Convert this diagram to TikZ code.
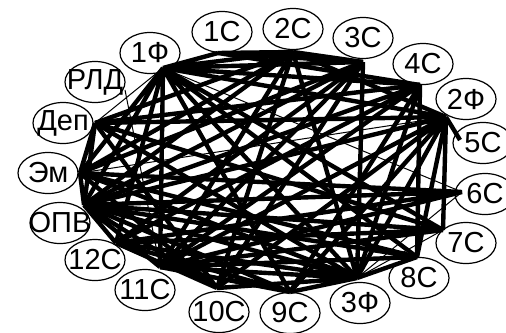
\documentclass[tikz,border=0pt]{standalone}
\usepackage{fontspec}
\setmainfont{Liberation Sans}
\usetikzlibrary{shapes.geometric}
\newcommand\tagtext[1]{\makebox[16pt]{#1}}
\begin{document}
\begin{tikzpicture}[x=0.5pt, y=-0.5pt,
  lbl/.style={draw, ellipse, line width=0.6pt, minimum width=30pt, minimum height=20.5pt, inner sep=0pt, font=\fontsize{14.5}{15}\selectfont},
  hv/.style={line width=2.2pt},
  lt/.style={line width=0.5pt}]
\useasboundingbox (0,0) rectangle (506,332);

\coordinate (vf1) at (163,68);
\coordinate (vc1) at (218,53);
\coordinate (vc2) at (293,52);
\coordinate (vc3) at (363,62);
\coordinate (vc4) at (420,85);
\coordinate (vf2) at (446,117);
\coordinate (vc5) at (460,140);
\coordinate (vc6) at (462,192);
\coordinate (vc7) at (443,230);
\coordinate (vc8) at (417,257);
\coordinate (vf3) at (357,278);
\coordinate (vc9) at (290,292);
\coordinate (vc10) at (217,288);
\coordinate (vc11) at (160,267);
\coordinate (vc12) at (116,243);
\coordinate (vopv) at (84,205);
\coordinate (vem) at (80,173);
\coordinate (vdep) at (95,123);
\coordinate (vrld) at (125,90);

\draw [hv] (vf1) -- (vc1) (vf1) -- (vc2) (vf1) -- (vc3) (vf1) -- (vc4) (vf1) -- (vf2) (vf1) -- (vc7) (vf1) -- (vc8) (vf1) -- (vf3) (vf1) -- (vc9) (vf1) -- (vc11) (vf1) -- (vc12) (vf1) -- (vopv) (vf1) -- (vem);
\draw [hv] (vc1) -- (vc2) (vc1) -- (vc3) (vc1) -- (vc4);
\draw [hv] (vc2) -- (vc3) (vc2) -- (vf2) (vc2) -- (vf3) (vc2) -- (vopv) (vc2) -- (vc11) (vc2) -- (vdep) (vc2) -- (vem) (vc2) -- (vc10);
\draw [hv] (vc3) -- (vf3) (vc3) -- (vopv) (vc3) -- (vem) (vc3) -- (vc10) (vc3) -- (vc11) (vc3) -- (vc12);
\draw [hv] (vc4) -- (vf3) (vc4) -- (vopv) (vc4) -- (vc12) (vc4) -- (vc8) (vc4) -- (vc9) (vc4) -- (vdep) (vc4) -- (vc11);
\draw [hv] (vf2) -- (vc5) (vf2) -- (vc7) (vf2) -- (vc8) (vf2) -- (vf3) (vf2) -- (vc10) (vf2) -- (vc11) (vf2) -- (vopv) (vf2) -- (vc9) (vf2) -- (vdep);
\draw [hv] (vc6) -- (vopv) (vc6) -- (vc12) (vc6) -- (vem) (vc6) -- (vc11);
\draw [hv] (vc7) -- (vopv) (vc7) -- (vc12) (vc7) -- (vc11) (vc7) -- (vdep);
\draw [hv] (vc8) -- (vopv) (vc8) -- (vf3) (vc8) -- (vc11) (vc8) -- (vem);
\draw [hv] (vf3) -- (vc9) (vf3) -- (vc10) (vf3) -- (vc11) (vf3) -- (vopv) (vf3) -- (vem) (vf3) -- (vdep) (vf3) -- (vc12);
\draw [hv] (vc9) -- (vopv) (vc9) -- (vc11) (vc9) -- (vc12);
\draw [hv] (vc10) -- (vopv) (vc10) -- (vc12) (vc10) -- (vem) (vc10) -- (vdep);
\draw [hv] (vc11) -- (vopv) (vc12) -- (vopv) (vem) -- (vdep) (vem) -- (vopv) (vdep) -- (vopv);

\draw [lt] (vdep) -- (vf1) (vrld) -- (vc11) (vem) -- (vf2) (vf1) -- (vc6) (vf3) -- (vc6) (vf3) -- (vc7);

\node [lbl] (f1) at (150,53) {\tagtext{1Ф}};
\node [lbl] (c1) at (222,32) {\tagtext{1С}};
\node [lbl] (c2) at (293,29) {\tagtext{2С}};
\node [lbl] (c3) at (363,38) {\tagtext{3С}};
\node [lbl] (c4) at (423,64) {\tagtext{4С}};
\node [lbl] (f2) at (466,99) {\tagtext{2Ф}};
\node [lbl] (c5) at (483,143) {\tagtext{5С}};
\node [lbl] (c6) at (485,194) {\tagtext{6С}};
\node [lbl] (c7) at (466,243) {\tagtext{7С}};
\node [lbl] (c8) at (419,278) {\tagtext{8С}};
\node [lbl] (f3) at (360,303) {\tagtext{3Ф}};
\node [lbl] (c9) at (290,313) {\tagtext{9С}};
\node [lbl] (c10) at (219,312) {\tagtext{10С}};
\node [lbl] (c11) at (145,290) {\tagtext{11С}};
\node [lbl] (c12) at (95,260) {\tagtext{12С}};
\node [lbl] (opv) at (60,223) {\tagtext{ОПВ}};
\node [lbl] (em) at (48,173) {\tagtext{Эм}};
\node [lbl] (dep) at (63,123) {\tagtext{Деп}};
\node [lbl] (rld) at (95,82) {\tagtext{РЛД}};
\end{tikzpicture}
\end{document}
